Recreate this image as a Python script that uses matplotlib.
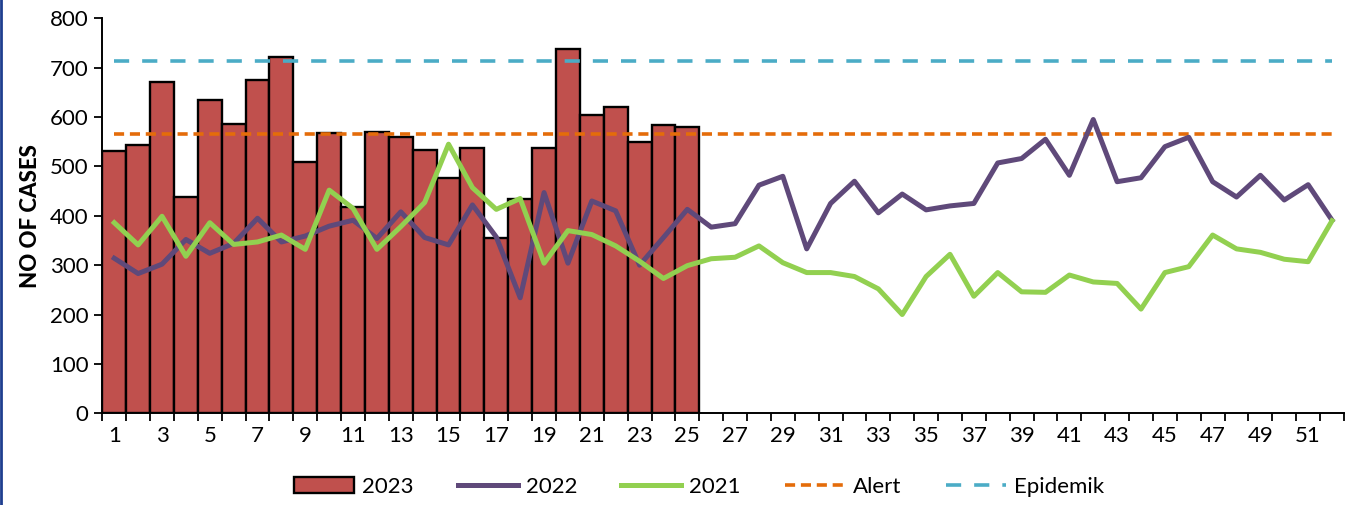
import matplotlib.pyplot as plt
import numpy as np
from matplotlib.lines import Line2D

plt.rcParams['font.family'] = ['Lato', 'DejaVu Sans']

# semanas epidemiologicas
semanas = np.arange(1, 53)

# casos 2023 (solo hasta la semana 25)
casos_2023 = [531, 543, 671, 438, 634, 585, 675, 721, 508, 567,
              418, 570, 559, 534, 477, 538, 356, 434, 538, 737,
              605, 621, 549, 584, 579]

casos_2022 = [314, 283, 302, 352, 324, 344, 395, 347, 359, 379,
              391, 354, 408, 356, 341, 422, 357, 234, 447, 304,
              430, 410, 300, 356, 413, 377, 384, 462, 480, 333,
              425, 470, 406, 444, 412, 420, 425, 507, 516, 555,
              482, 595, 469, 477, 540, 559, 469, 438, 482, 432,
              463, 391]

casos_2021 = [386, 341, 399, 318, 386, 342, 347, 361, 332, 452,
              415, 332, 378, 427, 545, 457, 413, 435, 304, 370,
              362, 339, 308, 273, 299, 313, 316, 339, 305, 285,
              285, 277, 252, 200, 277, 322, 237, 285, 246, 245,
              280, 266, 263, 211, 285, 297, 361, 333, 326, 312,
              307, 390]

umbral_alerta = 565
umbral_epidemia = 714

fig = plt.figure(figsize=(13.57, 5.05), dpi=100)
ax = fig.add_axes([0.0754, 0.1816, 0.915, 0.7822])

# barras 2023
barras = ax.bar(semanas[:len(casos_2023)], casos_2023, width=1.0, color='#C0504D',
                edgecolor='black', linewidth=1.7, label='2023', zorder=1)

# lineas de años anteriores
l22, = ax.plot(semanas, casos_2022, color='#5F497A', linewidth=3.6, label='2022',
               zorder=3)
l21, = ax.plot(semanas, casos_2021, color='#92D050', linewidth=3.6, label='2021',
               zorder=3)

# umbrales
la, = ax.plot(semanas, [umbral_alerta] * len(semanas), color='#E46C0A',
              linewidth=2.6, dashes=(2.8, 1.6), label='Alert', zorder=2)
le, = ax.plot(semanas, [umbral_epidemia] * len(semanas), color='#4BACC6',
              linewidth=2.6, dashes=(4.2, 3.6), label='Epidemik', zorder=2)

# ejes
ax.set_xlim(0.5, 52.5)
ax.set_ylim(0, 800)
ax.set_yticks(np.arange(0, 801, 100))
ax.set_xticks(np.arange(0.5, 53, 1))
ax.set_xticklabels([])
ax.set_xticks(semanas[::2], minor=True)
ax.set_xticklabels([str(s) for s in semanas[::2]], minor=True)
ax.tick_params(axis='x', which='major', direction='out', length=6,
               width=1.3, color='black')
ax.tick_params(axis='x', which='minor', length=0, labelsize=16, pad=9)
ax.tick_params(axis='y', direction='out', length=6, width=1.3,
               labelsize=16, pad=4)
for lado in ['top', 'right']:
    ax.spines[lado].set_visible(False)
for lado in ['left', 'bottom']:
    ax.spines[lado].set_linewidth(1.4)

ax.set_ylabel('NO OF CASES', fontsize=16, fontweight='black', labelpad=6)

fig.legend(handles=[barras, l22, l21, la, le], loc='center',
           bbox_to_anchor=(0.515, 0.036), ncol=5,
           frameon=False, fontsize=16, handlelength=2.7,
           handletextpad=0.35, columnspacing=2.0)

# borde izquierdo del grafico
fig.add_artist(Line2D([0.001, 0.001], [0, 1], color='#1F3F8F',
                      linewidth=2, transform=fig.transFigure))

fig.savefig('out.png', dpi=100)
